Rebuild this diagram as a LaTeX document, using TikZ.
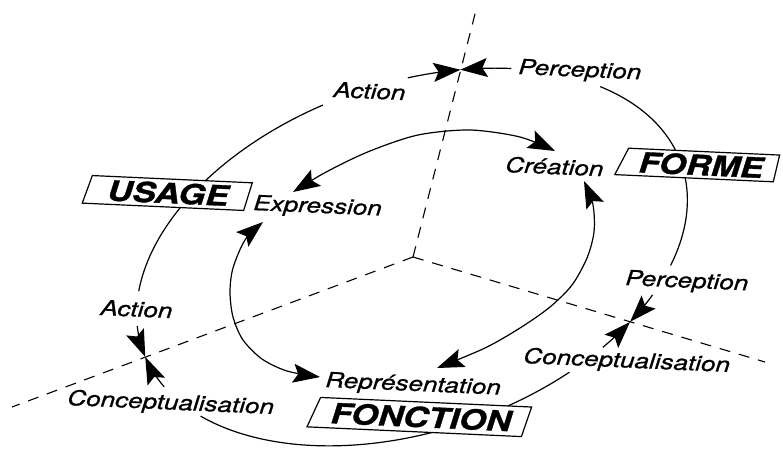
\documentclass[tikz,border=0pt]{standalone}
\usepackage{fontspec}
\newfontfamily\labfont[FakeStretch=1.24,FakeBold=0.8]{TeX Gyre Heros}
\newfontfamily\boxfont[FakeStretch=1.24,FakeBold=1.2]{TeX Gyre Heros}
\usetikzlibrary{arrows.meta,shapes.geometric}
\begin{document}
\begin{tikzpicture}[x=1pt,y=-1pt,
  declare function={ox(\t)=412+269.5*cos(\t)-56.65*sin(\t); oy(\t)=257-92.8*cos(\t)-164.5*sin(\t);},
  axisline/.style={line width=1.1pt, dash pattern=on 11pt off 9pt},
  orbit/.style={line width=1.2pt},
  bigtip/.tip={Stealth[length=27pt,width=19pt,inset=5pt]},
  tipend/.style={-bigtip},
  tipboth/.style={bigtip-bigtip},
  lab/.style={anchor=base west, inner sep=0pt, rotate=-2.5, font={\labfont\itshape\fontsize{21}{24}\selectfont}},
  boxlab/.style={draw, fill=white, line width=1.2pt, shape=trapezium, trapezium stretches=true, inner xsep=2pt, inner ysep=0pt, rotate=-2.6, anchor=center, font={\boxfont\bfseries\itshape\fontsize{28}{30}\selectfont}}
]
\fill[white] (0,0) rectangle (783,448);
\useasboundingbox (0,0) rectangle (783,448);
% axes
\coordinate (c) at (413,257);
\coordinate (topend) at (476,10);
\coordinate (leftend) at (12,407);
\coordinate (rightend) at (765,362);
\draw[axisline] (c) -- (topend);
\draw[axisline] (c) -- (leftend);
\draw[axisline] (c) -- (rightend);
% outer cycle
\draw[orbit] plot[domain=35:-32, samples=60] ({ox(\x)},{oy(\x)});
\draw[orbit, tipend] plot[domain=-41:-49.5, samples=10] ({ox(\x)},{oy(\x)});
\draw[orbit, tipend] plot[domain=-58:-49.5, samples=10] ({ox(\x)},{oy(\x)});
\draw[orbit] plot[domain=-67:-152, samples=70] ({ox(\x)},{oy(\x)});
\draw[orbit, tipend] plot[domain=-166:-177.5, samples=10] ({ox(\x)},{oy(\x)});
\draw[orbit, tipend] plot[domain=172:182.5, samples=10] ({ox(\x)},{oy(\x)});
\draw[orbit] plot[domain=161:97, samples=60] ({ox(\x)},{oy(\x)});
\draw[orbit, tipend] plot[domain=79:68, samples=10] ({ox(\x)},{oy(\x)});
\draw[orbit, tipend] plot[domain=57:68, samples=10] ({ox(\x)},{oy(\x)});
% inner cycle
\draw[orbit, tipboth] plot[smooth] coordinates {(293,192) (330,170) (370,151) (418,135) (470,130) (520,137) (555,151)};
\draw[orbit, tipboth] plot[smooth] coordinates {(584,181) (593,205) (594,232) (587,258) (572,285) (550,307) (520,328) (485,348) (437,368)};
\draw[orbit, tipboth] plot[smooth] coordinates {(263,222) (245,240) (233,268) (230,292) (233,317) (243,340) (262,359) (287,371) (320,377)};
% boxes
\node[boxlab, trapezium left angle=71, trapezium right angle=106, minimum width=169pt, minimum height=28pt] (usage) at (168,193) {USAGE};
\node[boxlab, trapezium left angle=62, trapezium right angle=102, minimum width=164pt, minimum height=27pt] (forme) at (701,165) {FORME};
\node[boxlab, trapezium left angle=62, trapezium right angle=111, minimum width=224pt, minimum height=30pt] (fonction) at (421,417) {FONCTION};
% labels
\node[lab] (act1) at (333,97) {Action};
\node[lab] (perc1) at (518,74) {Perception};
\node[lab] (crea) at (505,172) {Création};
\node[lab] (expr) at (253,210) {Expression};
\node[lab] (repr) at (325,387) {Représentation};
\node[lab] (conc2) at (523,363) {Conceptualisation};
\node[lab] (perc2) at (625,285) {Perception};
\node[lab] (act2) at (100,315) {Action};
\node[lab] (conc1) at (67,405) {Conceptualisation};
\end{tikzpicture}
\end{document}
